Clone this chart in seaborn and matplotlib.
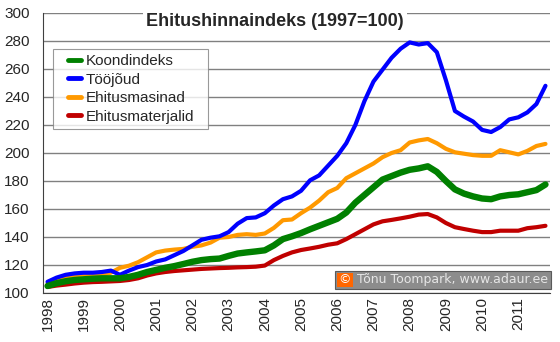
import numpy as np
import pandas as pd
import matplotlib
matplotlib.use("Agg")
import matplotlib.pyplot as plt
import seaborn as sns
from matplotlib.lines import Line2D
from matplotlib.patches import Rectangle
from matplotlib.legend_handler import HandlerLine2D

years = list(range(1998, 2012))
quarters = [f"{y}Q{q}" for y in years for q in range(1, 5)]

koondindeks = [105, 107, 108.4, 109.3, 109.8, 110.2, 110.5, 110.5, 110.5, 111.5, 113, 115,
               116.5, 118, 119.2, 120.7, 122.3, 123.5, 124.2, 124.6, 126.5, 128.2, 129, 129.7,
               130.5, 134, 138.5, 140.5, 142.8, 145.5, 148, 150.5, 153, 157.5, 164.5, 170,
               175.5, 181, 183.5, 186, 188, 189, 190.5, 186.5, 180, 174, 171, 169,
               167.5, 167, 169, 170, 170.5, 172, 173.5, 177.5]
toojoud = [108, 111, 113, 114, 114.5, 114.5, 115, 116, 113, 116, 118.5, 120,
           122.5, 124, 127, 130, 134, 138, 139.5, 140.5, 143.5, 149.5, 153.5, 154,
           157, 162.5, 167, 169, 173, 180.5, 184, 191, 198, 207, 220, 237,
           251, 259.5, 268, 274.5, 279, 277.5, 278.5, 272, 252, 230, 226, 222.5,
           216.5, 215, 218.5, 224, 225.5, 229, 235, 248]
masinad = [106, 108.5, 111, 112.5, 113.3, 113.5, 113, 114.5, 118, 119.5, 122, 125.5,
           129, 130.3, 131, 131.5, 133, 134, 136, 139.5, 140, 141.5, 142, 141.5,
           142.5, 146.5, 152, 152.5, 157, 161, 166, 172, 175, 182, 185.5, 189,
           192.5, 197, 200, 202, 207.5, 209, 210, 207, 203, 200.5, 199.5, 198.5,
           198, 198, 202, 200.5, 199, 201.5, 205, 206.5]
materjalid = [104.3, 105.3, 106, 106.8, 107.4, 107.8, 108, 108.3, 108.6, 109.3, 110.5, 112.5,
              114, 115, 115.7, 116.2, 116.7, 117.2, 117.5, 117.8, 118, 118.3, 118.5, 118.8,
              119.6, 123.5, 126.5, 129, 130.7, 131.8, 133, 134.5, 135.5, 138.5, 142, 145.5,
              149, 151.2, 152.2, 153.3, 154.5, 156, 156.4, 154, 150, 147, 145.7, 144.5,
              143.5, 143.5, 144.5, 144.5, 144.5, 146.3, 147, 148]

series_names = ["Koondindeks", "Tööjõud", "Ehitusmasinad", "Ehitusmaterjalid"]
series_values = [koondindeks, toojoud, masinad, materjalid]
colors = ["#008000", "#0000FF", "#FF9900", "#C00000"]
widths = [4.6, 3.0, 3.0, 3.0]
yticks = list(range(100, 301, 20))

sns.set_theme(style="white")
plt.rcParams['font.family'] = ['Liberation Sans', 'DejaVu Sans']

rows = []
for name, vals in zip(series_names, series_values):
    for i, v in enumerate(vals):
        rows.append({"idx": i, "quarter": quarters[i], "value": v, "series": name})
df = pd.DataFrame(rows)

W, H = 560, 342
fig = plt.figure(figsize=(W / 100, H / 100), dpi=100)
ax = fig.add_axes([43 / W, 1 - 293 / H, 507 / W, 280 / H])

for name, col, lw in zip(series_names[::-1], colors[::-1], widths[::-1]):
    sns.lineplot(data=df[df["series"] == name], x="idx", y="value", color=col,
                 linewidth=lw, ax=ax, legend=False, solid_capstyle="round",
                 solid_joinstyle="round")

ax.set_xlim(-0.5, len(quarters) - 0.5)
ax.set_ylim(100, 300)
ax.set_yticks(yticks)
ax.set_yticklabels([str(t) for t in yticks], fontsize=11)
ax.yaxis.grid(True, color="#808080", linewidth=1.0)
ax.set_axisbelow(True)

major = [i for i, q in enumerate(quarters) if q.endswith("Q1")]
ax.set_xticks(major)
ax.set_xticklabels([q[:4] for q in quarters if q.endswith("Q1")], rotation=90, fontsize=11)
ax.set_xticks(np.arange(-0.5, len(quarters), 1), minor=True)
ax.tick_params(axis="x", which="major", length=0, pad=3)
ax.tick_params(axis="x", which="minor", length=4, width=0.8, color="#404040", direction="out")
ax.tick_params(axis="y", length=4, width=0.8, color="#404040", direction="out", pad=5.5)
ax.set_xlabel("")
ax.set_ylabel("")
for s in ["top", "right"]:
    ax.spines[s].set_visible(False)
for s in ["left", "bottom"]:
    ax.spines[s].set_color("#404040")
    ax.spines[s].set_linewidth(0.8)


class ShortLineHandler(HandlerLine2D):
    def get_xdata(self, legend, xdescent, ydescent, width, height, fontsize):
        x0 = -xdescent
        xd = np.array([x0 + width * 0.40, x0 + width * 0.92])
        return xd, xd


handles = [Line2D([0], [0], color=c, linewidth=3.5, solid_capstyle="round") for c in colors]
leg = ax.legend(handles, series_names, loc="upper left",
                bbox_to_anchor=(10 / 507, 241.5 / 280, 155 / 507, 0.01), mode="expand",
                fontsize=11, frameon=True, fancybox=False, handlelength=1.64,
                handletextpad=0.13, labelspacing=0.30, borderpad=0.35, borderaxespad=0,
                handler_map={Line2D: ShortLineHandler()})
leg.get_frame().set_edgecolor("#808080")
leg.get_frame().set_linewidth(0.8)

fig.text(275 / W, 1 - 21 / H, "Ehitushinnaindeks (1997=100)", ha="center", va="center",
         fontsize=13, fontweight="bold", zorder=5,
         bbox=dict(facecolor="white", edgecolor="none", pad=2))

# copyright box
fig.add_artist(Rectangle((335 / W, 1 - 289 / H), 216 / W, 18 / H, transform=fig.transFigure,
                         facecolor="#8c8c8c", edgecolor="#5a5a5a", linewidth=0.8, zorder=6))
fig.add_artist(Rectangle((337 / W, 1 - 287 / H), 16 / W, 14 / H, transform=fig.transFigure,
                         facecolor="#ff6600", edgecolor="none", zorder=7))
fig.text(345 / W, 1 - 280 / H, "©", ha="center", va="center", fontsize=9, color="white",
         family="DejaVu Sans", zorder=8)
fig.text(357 / W, 1 - 280 / H, "Tõnu Toompark, www.adaur.ee", ha="left", va="center",
         fontsize=9, color="#e6e6e6", family="DejaVu Sans", zorder=8)

fig.savefig("out.png", dpi=100)
